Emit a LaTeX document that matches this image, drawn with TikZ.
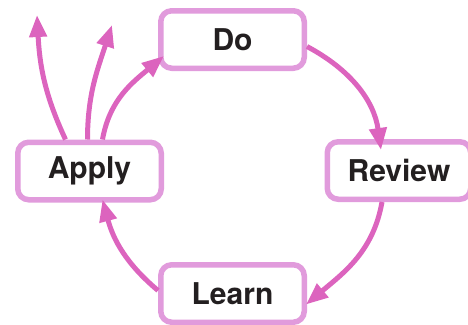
\documentclass[tikz,border=0pt]{standalone}
\usepackage{fontspec}
\setmainfont{TeX Gyre Heros}
\usetikzlibrary{arrows.meta}
\definecolor{boxpink}{RGB}{225,155,220}
\definecolor{arrowpink}{RGB}{220,100,190}
\definecolor{textdark}{RGB}{35,31,32}
\begin{document}
\begin{tikzpicture}[x=1pt,y=-1pt]
\tikzset{
	box node/.style={rectangle,draw=boxpink,fill=white,line width=5.5pt,rounded corners=11pt,
		minimum width=143.5pt,minimum height=57.5pt,inner sep=0pt,text=textdark,
		font=\fontsize{30}{36}\selectfont\bfseries},
	flow arrow/.style={draw=arrowpink,line width=5pt,
		-{Triangle[length=22pt,width=17pt]}}
}
\useasboundingbox (0,0) rectangle (468,324);
\node[box node] (do) at (232.5,39.5) {Do};
\node[box node] (review) at (399,170.5) {Review};
\node[box node] (apply) at (89.5,171) {Apply};
\node[box node] (learn) at (232.5,293.5) {Learn};
\coordinate (out1) at (37,15);
\coordinate (out2) at (112,25);

\draw[flow arrow] ([yshift=-7pt]do.east) to[out=-28,in=98] ([xshift=-18pt,yshift=-11pt]review.north);
\draw[flow arrow] ([xshift=-17pt]review.south) to[out=-100,in=40] ([xshift=-1pt,yshift=-11pt]learn.east);
\draw[flow arrow] ([yshift=3pt]learn.west) to[out=140,in=-75] ([xshift=13pt,yshift=3pt]apply.south);
\draw[flow arrow] ([xshift=13pt]apply.north) to[out=80,in=-140] ([xshift=6pt,yshift=15pt]do.south west);
\draw[flow arrow] ([xshift=-2pt]apply.north) to[out=90,in=-108] (out2);
\draw[flow arrow] ([xshift=-24pt]apply.north) to[out=115,in=-87] (out1);
\end{tikzpicture}
\end{document}
